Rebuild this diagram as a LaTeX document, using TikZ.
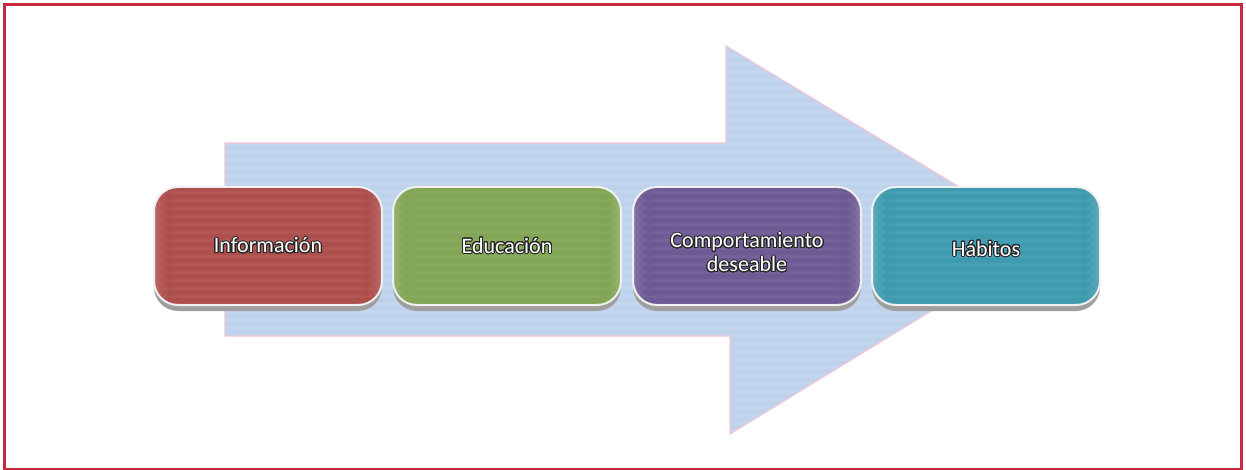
\documentclass[tikz,border=0pt]{standalone}
\usepackage{fontspec}
\setmainfont{Carlito}
\usepackage{contour}
\contourlength{1pt}
\contournumber{24}
\begin{document}
\begin{tikzpicture}[x=1pt,y=-1pt,
  stepbox/.style={draw=white!88!gray, line width=2pt, rounded corners=24pt,
    minimum width=228pt, minimum height=118pt, inner sep=0pt,
    font=\fontsize{22}{24}\selectfont, text=white, align=center,
    path picture={\foreach \k in {0,8,...,130}{\fill[white,opacity=0.05] ([yshift=-\k pt-4pt]path picture bounding box.north west) rectangle ([yshift=-\k pt-7pt]path picture bounding box.north east);}}},
  steptext/.style={font=\fontsize{22}{24}\selectfont, text=white, align=center, inner sep=0pt},
]
\definecolor{cred}{HTML}{AD4F4C}
\definecolor{cgreen}{HTML}{83A656}
\definecolor{cpurple}{HTML}{6E5A94}
\definecolor{cteal}{HTML}{3E9BAF}
\definecolor{arrowfill}{HTML}{BFD2EC}
\definecolor{arrowline}{HTML}{F2C4D8}
\definecolor{frame}{HTML}{C8283C}
\useasboundingbox (0,0) rectangle (1246,470);
\fill[white] (0,0) rectangle (1246,470);
\draw[frame, line width=2.5pt] (4.5,4.5) rectangle (1241.5,469.5);
% big arrow
\draw[arrowline, line width=1.2pt, fill=arrowfill,
  path picture={\foreach \k in {0,8,...,400}{\fill[white,opacity=0.09] (200,46+\k) rectangle (1100,49+\k);}}]
  (225,143) -- (726,143) -- (726,46) -- (1047,240) -- (730,434) -- (730,336) -- (225,336) -- cycle;
% shadows
\foreach \c in {268,507,747,986}{\fill[gray!75] (\c-114,192) [rounded corners=24pt] rectangle (\c+114,311);}
\node[stepbox, fill=cred] (n1) at (268,246) {\contour{black!85}{Información}};
\node[stepbox, fill=cgreen] (n2) at (507,246) {\contour{black!85}{Educación}};
\node[stepbox, fill=cpurple] (n3) at (747,246) {};
\node[steptext] (n3t) at (747,253) {\contour{black!85}{Comportamiento}\\\contour{black!85}{deseable}};
\node[stepbox, fill=cteal] (n4) at (986,246) {};
\node[steptext] (n4t) at (986,249) {\contour{black!85}{Hábitos}};
\end{tikzpicture}
\end{document}
